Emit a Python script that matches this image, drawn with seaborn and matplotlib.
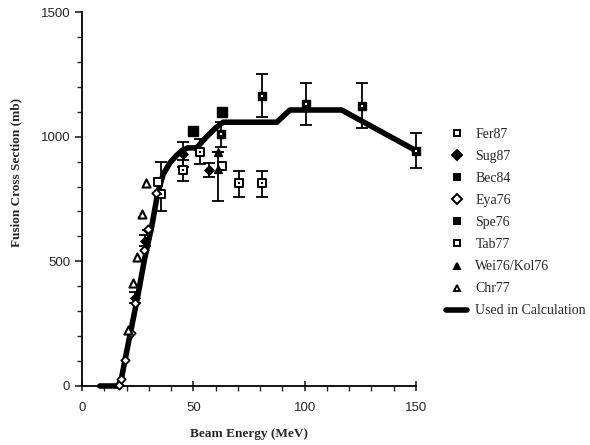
import numpy as np
import pandas as pd
import matplotlib
matplotlib.use("Agg")
import matplotlib.pyplot as plt
from matplotlib.lines import Line2D
from matplotlib.ticker import MultipleLocator
import seaborn as sns

# ---- data ----
calc_x = [8, 16, 17.5, 19.3, 22.3, 25.3, 28, 31.3, 34, 36.5, 39.5, 42.5, 45, 47.5, 51.5, 56, 60, 63.4, 87.5, 93.4, 116.6, 150]
calc_y = [0, 0, 20, 104, 238, 373, 505, 639, 774, 850, 895, 925, 945, 955, 955, 1000, 1035, 1058, 1058, 1107, 1107, 944]

fer_x = [35.5, 45.5, 53, 70.3, 80.7]
fer_y = [770, 866, 937, 815, 815]
fer_lo = [70, 44, 48, 55, 55]
fer_hi = [130, 40, 53, 47, 47]

sug_x = [23.8, 28.3, 29.8, 45.5, 57]
sug_y = [353, 583, 626, 930, 866]
sug_err = [22, 22, 0, 50, 27]

bec_x = [62.5, 80.7, 100.6, 125.9, 150]
bec_y = [1010, 1165, 1130, 1125, 943]
bec_err = [50, 85, 85, 90, 70]

eya_x = [16.5, 17.5, 19.3, 22, 23.8, 28, 29.5, 33.2]
eya_y = [5, 30, 104, 211, 332, 545, 628, 775]

spe_x = [49.7, 63]
spe_y = [1023, 1098]

tab_x = [34.3, 63]
tab_y = [819, 884]

wei_x = [61.3, 61.3]
wei_y = [940, 870]
wei_lo = [0, 130]
wei_hi = [0, 70]

chr_x = [20.8, 23, 24.8, 27.1, 28.7]
chr_y = [225, 412, 516, 690, 815]

labels = ["Fer87", "Sug87", "Bec84", "Eya76", "Spe76", "Tab77", "Wei76/Kol76", "Chr77", "Used in Calculation"]

# ---- plot ----
sns.set_style("ticks")
plt.rcParams["font.family"] = ["Liberation Sans", "DejaVu Sans"]
fig = plt.figure(figsize=(5.9, 4.45), dpi=100)
ax = fig.add_axes([0.139, 0.1326, 0.566, 0.8404])

ekw = dict(fmt="none", ecolor="black", elinewidth=1.3, capsize=4, capthick=1.3, zorder=2)
for ex, ey, ee in [(fer_x, fer_y, [fer_lo, fer_hi]), (sug_x, sug_y, sug_err),
                   (bec_x, bec_y, bec_err), (wei_x, wei_y, [wei_lo, wei_hi])]:
    eb = ax.errorbar(ex, ey, yerr=ee, **ekw)
    for art in eb.lines[1] + eb.lines[2]:
        art.set_clip_on(False)

df_calc = pd.DataFrame({"E": calc_x, "sigma": calc_y})
sns.lineplot(data=df_calc, x="E", y="sigma", color="black", linewidth=4, ax=ax, zorder=3, sort=False)

styles = {
    "Fer87": dict(marker="s", s=30, facecolor="white", edgecolor="black", linewidth=1.4),
    "Sug87": dict(marker="D", s=22, facecolor="black", edgecolor="black", linewidth=1),
    "Bec84": dict(marker="s", s=38, facecolor="black", edgecolor="black", linewidth=1),
    "Eya76": dict(marker="D", s=18, facecolor="white", edgecolor="black", linewidth=1.3),
    "Spe76": dict(marker="s", s=55, facecolor="black", edgecolor="black", linewidth=1),
    "Tab77": dict(marker="s", s=40, facecolor="white", edgecolor="black", linewidth=1.4),
    "Wei76/Kol76": dict(marker="^", s=32, facecolor="black", edgecolor="black", linewidth=1),
    "Chr77": dict(marker="^", s=34, facecolor="white", edgecolor="black", linewidth=1.5),
}
series = {
    "Fer87": (fer_x, fer_y), "Sug87": (sug_x, sug_y), "Bec84": (bec_x, bec_y),
    "Eya76": (eya_x, eya_y), "Spe76": (spe_x, spe_y), "Tab77": (tab_x, tab_y),
    "Wei76/Kol76": (wei_x, wei_y), "Chr77": (chr_x, chr_y),
}
for name, (xs, ys) in series.items():
    st = styles[name]
    sns.scatterplot(x=xs, y=ys, ax=ax, marker=st["marker"], s=st["s"], color=st["facecolor"],
                    edgecolor=st["edgecolor"], linewidth=st["linewidth"], zorder=4, legend=False,
                    clip_on=False)
# centre dots
sns.scatterplot(x=fer_x, y=fer_y, ax=ax, marker="s", s=3, color="black", linewidth=0, zorder=5,
                legend=False, clip_on=False)
sns.scatterplot(x=bec_x, y=bec_y, ax=ax, marker="s", s=3, color="white", linewidth=0, zorder=5,
                legend=False, clip_on=False)
for ln in ax.lines:
    ln.set_clip_on(False)

ax.set_xlim(0, 150)
ax.set_ylim(0, 1500)
ax.xaxis.set_major_locator(MultipleLocator(50))
ax.xaxis.set_minor_locator(MultipleLocator(10))
ax.yaxis.set_major_locator(MultipleLocator(500))
ax.yaxis.set_minor_locator(MultipleLocator(100))
ax.tick_params(axis="x", which="major", direction="inout", length=7, width=1.2, labelsize=9.5, pad=8)
ax.tick_params(axis="x", which="minor", direction="out", length=3.5, width=1)
ax.tick_params(axis="y", which="major", direction="out", length=5, width=1.2, labelsize=9.5)
ax.tick_params(axis="y", which="minor", direction="out", length=3.5, width=1)
for sp in ["left", "bottom"]:
    ax.spines[sp].set_linewidth(1.3)
    ax.spines[sp].set_color("black")
sns.despine(ax=ax)

ax.set_xlabel("Beam Energy (MeV)", fontfamily="Liberation Serif", fontweight="bold", fontsize=9.5, labelpad=10)
ax.set_ylabel("Fusion Cross Section (mb)", fontfamily="Liberation Serif", fontweight="bold", fontsize=9.5)
ax.yaxis.set_label_coords(-0.18, 0.57)

handles = []
for name in labels[:-1]:
    st = styles[name]
    handles.append(Line2D([], [], linestyle="none", marker=st["marker"], markersize=5,
                          markerfacecolor=st["facecolor"], markeredgecolor="black", markeredgewidth=1.4))
handles.append(Line2D([], [], color="black", linewidth=4))
leg = fig.legend(handles, labels, loc="upper left", bbox_to_anchor=(0.735, 0.74), frameon=False,
                 prop={"family": "Liberation Serif", "size": 10}, handlelength=1.5, handletextpad=0.6,
                 labelspacing=0.65)

fig.savefig("out.png", dpi=100)
